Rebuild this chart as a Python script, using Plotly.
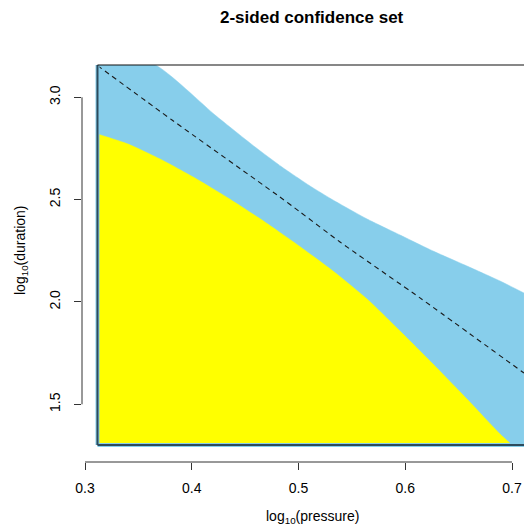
import plotly.graph_objects as go

# ---- data ----
x_ticks = [0.3, 0.4, 0.5, 0.6, 0.7]
y_ticks = [1.5, 2.0, 2.5, 3.0]
x_tick_labels = ["0.3", "0.4", "0.5", "0.6", "0.7"]
y_tick_labels = ["1.5", "2.0", "2.5", "3.0"]

# plotting box (data coordinates)
box_x = [0.3117, 0.7112]
box_y = [1.3011, 3.1578]

# upper boundary of the 2-sided set (blue)
upper_x = [0.3656, 0.4218, 0.4593, 0.4845, 0.5108, 0.5323, 0.5642,
           0.5951, 0.6260, 0.6578, 0.6888, 0.7112]
upper_y = [3.1578, 2.9135, 2.7572, 2.6594, 2.5666, 2.4982, 2.4054,
           2.3272, 2.2490, 2.1757, 2.1024, 2.0438]

# lower boundary (yellow)
lower_x = [0.3117, 0.3403, 0.3721, 0.4030, 0.4340, 0.4658, 0.4967, 0.5323,
           0.5642, 0.5951, 0.6260, 0.6578, 0.6888, 0.7000]
lower_y = [2.8207, 2.7718, 2.6937, 2.6057, 2.5080, 2.4005, 2.2881, 2.1513,
           2.0145, 1.8581, 1.6969, 1.5259, 1.3549, 1.3011]

# central estimate (dashed)
mid_x = [0.3117, 0.3815, 0.4799, 0.5014, 0.5389, 0.6138, 0.7112]
mid_y = [3.155, 2.889, 2.523, 2.440, 2.293, 2.020, 1.653]

# axis ranges (window)
x_range = [0.29719, 0.711242]
y_range = [1.21811, 3.15782]

BLUE = "#87CEEB"
YELLOW = "#FFFF00"
FONT = "Liberation Sans, Arial, sans-serif"

fig = go.Figure()

def baseline():
    return go.Scatter(x=[box_x[0], box_x[1]], y=[box_y[0], box_y[0]],
                      mode="lines", line=dict(width=0, color="rgba(0,0,0,0)"),
                      hoverinfo="skip", showlegend=False)

# blue region: from the box bottom up to the upper boundary
fig.add_trace(baseline())
fig.add_trace(go.Scatter(x=[box_x[0]] + upper_x, y=[box_y[1]] + upper_y,
                         mode="lines", fill="tonexty", fillcolor=BLUE,
                         line=dict(color=BLUE, width=0.5, shape="spline", smoothing=0.5),
                         hoverinfo="skip", showlegend=False))

# yellow region: from the box bottom up to the lower boundary
fig.add_trace(baseline())
fig.add_trace(go.Scatter(x=lower_x, y=lower_y,
                         mode="lines", fill="tonexty", fillcolor=YELLOW,
                         line=dict(color=YELLOW, width=0.5, shape="spline", smoothing=0.5),
                         hoverinfo="skip", showlegend=False))

# dashed centre line
fig.add_trace(go.Scatter(x=mid_x, y=mid_y, mode="lines",
                         line=dict(color="#1a1a1a", width=1.1, dash="5px,4px",
                                   shape="spline", smoothing=0.4),
                         hoverinfo="skip", showlegend=False))

shapes = []
# box: left and bottom (dark slate, over a skyblue halo), top black
shapes.append(dict(type="line", xref="x", yref="y", x0=box_x[0], x1=box_x[0],
                   y0=box_y[0], y1=box_y[1], line=dict(color=BLUE, width=4)))
shapes.append(dict(type="line", xref="x", yref="y", x0=box_x[0], x1=1.0,
                   y0=box_y[0], y1=box_y[0], line=dict(color=BLUE, width=4)))
shapes.append(dict(type="line", xref="x", yref="y", x0=box_x[0], x1=box_x[0],
                   y0=box_y[0], y1=box_y[1], line=dict(color="#2E4B5C", width=2)))
shapes.append(dict(type="line", xref="x", yref="y", x0=box_x[0], x1=1.0,
                   y0=box_y[0], y1=box_y[0], line=dict(color="#2E4B5C", width=2)))
shapes.append(dict(type="line", xref="x", yref="paper", x0=box_x[0], x1=1.0,
                   y0=1, y1=1, line=dict(color="#111111", width=1.2)))
# R-style axis lines spanning the ticks
shapes.append(dict(type="line", xref="x", yref="paper", x0=min(x_ticks), x1=max(x_ticks),
                   y0=0, y1=0, line=dict(color="#333333", width=1)))
shapes.append(dict(type="line", xref="paper", yref="y", x0=0, x1=0,
                   y0=min(y_ticks), y1=max(y_ticks), line=dict(color="#333333", width=1)))

annotations = [
    dict(text="<b>2-sided confidence set</b>", xref="paper", yref="paper",
         x=(312 - 82) / 442, y=1, yshift=48, xanchor="center", yanchor="middle",
         showarrow=False, font=dict(family=FONT, size=17, color="#000000")),
    dict(text="log<sub>10</sub>(pressure)", xref="paper", yref="paper",
         x=(312 - 82) / 442, y=0, yshift=-55, xanchor="center", yanchor="middle",
         showarrow=False, font=dict(family=FONT, size=14, color="#000000")),
    dict(text="log<sub>10</sub>(duration)", xref="paper", yref="paper",
         x=0, xshift=-61, y=(462 - 250) / 397, textangle=-90,
         xanchor="center", yanchor="middle",
         showarrow=False, font=dict(family=FONT, size=14, color="#000000")),
]

fig.update_layout(
    width=524, height=531,
    margin=dict(l=82, r=0, t=65, b=69),
    paper_bgcolor="white", plot_bgcolor="white",
    shapes=shapes, annotations=annotations,
    font=dict(family=FONT, size=14, color="#000000"),
    xaxis=dict(range=x_range, tickvals=x_ticks, ticktext=x_tick_labels,
               ticks="outside", ticklen=7, tickcolor="#333333", tickwidth=1,
               showgrid=False, zeroline=False, showline=False,
               ticklabelstandoff=6,
               tickfont=dict(family=FONT, size=14, color="#000000")),
    yaxis=dict(range=y_range, tickvals=y_ticks, ticktext=y_tick_labels,
               ticks="outside", ticklen=7, tickcolor="#333333", tickwidth=1,
               tickangle=-90, ticklabelstandoff=8,
               showgrid=False, zeroline=False, showline=False,
               tickfont=dict(family=FONT, size=14, color="#000000")),
)

fig.write_html("out.html")
